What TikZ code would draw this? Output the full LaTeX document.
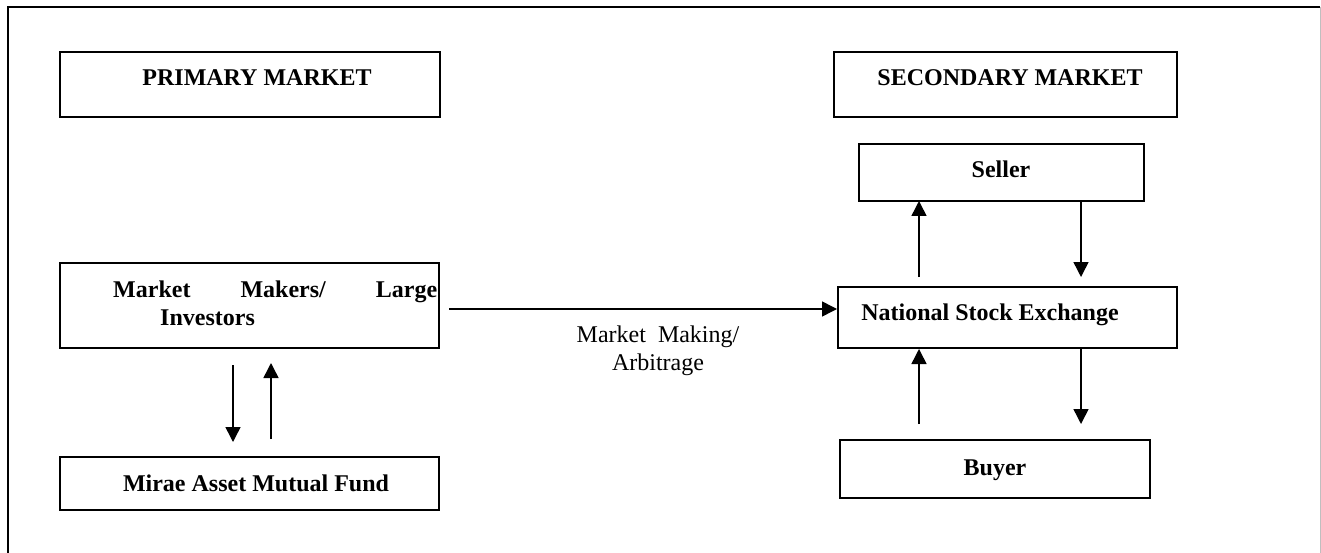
\documentclass[tikz,border=0pt]{standalone}
\usepackage{fontspec}
\setmainfont{Liberation Serif}
\usetikzlibrary{arrows.meta}
\begin{document}
\begin{tikzpicture}[x=1pt,y=-1pt,
  box/.style={draw=black,line width=2pt},
  lbl/.style={font=\fontsize{24}{28}\selectfont\bfseries,inner sep=0pt,anchor=base},
  arr/.style={line width=1.5pt,-{Triangle[width=15pt,length=15pt]}},
  plain/.style={line width=1.5pt}]
\useasboundingbox (0,0) rectangle (1321,553);
% outer frame
\draw[line width=2.5pt] (8,560) -- (8,7) -- (1320,7);
\draw[line width=1pt,black!25] (1320,7) -- (1320,560);
% boxes
\draw[box] (60,52) rectangle (440,117) coordinate (pmbr);
\node[lbl] (pm) at (257,86) {PRIMARY MARKET};
\draw[box] (834,52) rectangle (1177,117);
\node[lbl] (sm) at (1010,86) {SECONDARY MARKET};
\draw[box] (859,144) rectangle (1144,201);
\node[lbl] (seller) at (1001,178) {Seller};
\node[box,minimum width=339pt,minimum height=61pt,inner sep=0pt] (nse) at (1007.5,317.5) {};
\node[lbl] (nsetxt) at (990,320) {National Stock Exchange};
\draw[box] (840,440) rectangle (1150,498);
\node[lbl] (buyer) at (995,475) {Buyer};
\node[box,minimum width=379pt,minimum height=85pt,inner sep=0pt] (mm) at (249.5,305.5) {};
\node[lbl,anchor=base west] (mm1) at (113,297) {\makebox[324pt][s]{Market Makers/ Large}};
\node[lbl,anchor=base west] (mm2) at (160,325) {Investors};
\draw[box] (60,457) rectangle (439,510);
\node[lbl] (mirae) at (256,491) {Mirae Asset Mutual Fund};
% arrows
\coordinate (a1) at (449,309);
\draw[arr] (a1) -- (nse.west |- a1);
\node[font=\fontsize{24}{28}\selectfont,align=center,inner sep=0pt] (mlbl) at (658,351) {Market \ Making/\\Arbitrage};
\draw[arr] (233,365) -- (233,442);
\draw[arr] (271,439) -- (271,363);
\draw[arr] (919,277) -- (919,201);
\draw[arr] (1081,201) -- (1081,277);
\draw[arr] (919,424) -- (nse.south -| 919,0);
\draw[arr] (nse.south -| 1081,0) -- (1081,424);
\end{tikzpicture}
\end{document}
